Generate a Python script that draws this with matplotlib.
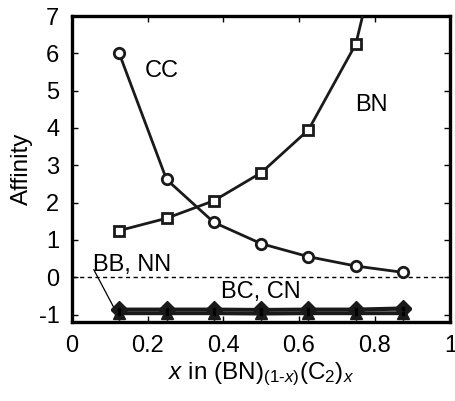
import matplotlib
matplotlib.use("Agg")
import matplotlib.pyplot as plt

plt.rcParams['font.family'] = ['Liberation Sans', 'DejaVu Sans']
plt.rcParams['mathtext.fontset'] = 'custom'
plt.rcParams['mathtext.rm'] = 'Liberation Sans'
plt.rcParams['mathtext.it'] = 'Liberation Sans:italic'

x = [0.125, 0.25, 0.375, 0.5, 0.625, 0.75, 0.875]
cc = [6.0, 2.62, 1.47, 0.9, 0.55, 0.3, 0.13]
bn = [1.25, 1.58, 2.05, 2.8, 3.95, 6.25, 11.5]
bc = [-0.85, -0.85, -0.85, -0.86, -0.85, -0.85, -0.82]
cn = [-0.88, -0.88, -0.88, -0.89, -0.88, -0.88, -0.86]
bb = [-0.95, -0.95, -0.95, -0.96, -0.95, -0.95, -0.95]
nn = [-0.98, -0.98, -0.98, -0.99, -0.98, -0.98, -0.98]

xticks = [0, 0.2, 0.4, 0.6, 0.8, 1]
xticklabels = ['0', '0.2', '0.4', '0.6', '0.8', '1']
yticks = [-1, 0, 1, 2, 3, 4, 5, 6, 7]

fig = plt.figure(figsize=(4.55, 4.01), dpi=100)
ax = fig.add_axes([0.158, 0.197, 0.832, 0.763])

lw = 2.0
ax.axhline(0, color='black', lw=1.0, ls=(0, (3, 2.5)), zorder=1)
ax.plot(x, cc, '-o', color='#1a1a1a', lw=lw, ms=7.5, mfc='white', mec='#1a1a1a', mew=2.0, zorder=3)
ax.plot(x, bn, '-s', color='#1a1a1a', lw=lw, ms=7.5, mfc='white', mec='#1a1a1a', mew=2.0, zorder=3)
for ys, m in [(nn, 'v'), (bb, '^'), (cn, 'D'), (bc, 'D')]:
    ax.plot(x, ys, '-', marker=m, color='#1a1a1a', lw=lw, ms=8.5, mfc='#1a1a1a', mec='#1a1a1a', zorder=3)
    ax.plot(x, ys, ' ', marker='.', color='black', ms=3, zorder=4)

ax.set_xlim(0, 1)
ax.set_ylim(-1.2, 7)
ax.set_xticks(xticks)
ax.set_xticklabels(xticklabels)
ax.set_yticks(yticks)
ax.set_yticklabels(['-1', '0', '1', '2', '3', '4', '5', '6', '7'])
ax.tick_params(direction='in', length=4, width=1, top=True, right=True, labelsize=17, pad=9)
for s in ax.spines.values():
    s.set_linewidth(2.4)

ax.set_ylabel('Affinity', fontsize=17.5, labelpad=4)
ax.set_xlabel(r'$x$ in (BN)$_{(1\text{-}x)}$(C$_2$)$_x$', fontsize=17.5, labelpad=3)

ax.text(0.237, 5.54, 'CC', fontsize=17, ha='center', va='center')
ax.text(0.79, 4.62, 'BN', fontsize=17, ha='center', va='center')
ax.text(0.158, 0.32, 'BB, NN', fontsize=17, ha='center', va='center')
ax.text(0.50, -0.4, 'BC, CN', fontsize=17, ha='center', va='center')
ax.plot([0.058, 0.118], [0.2, -0.95], color='black', lw=0.9, zorder=2)

fig.savefig('out.png', dpi=100)
